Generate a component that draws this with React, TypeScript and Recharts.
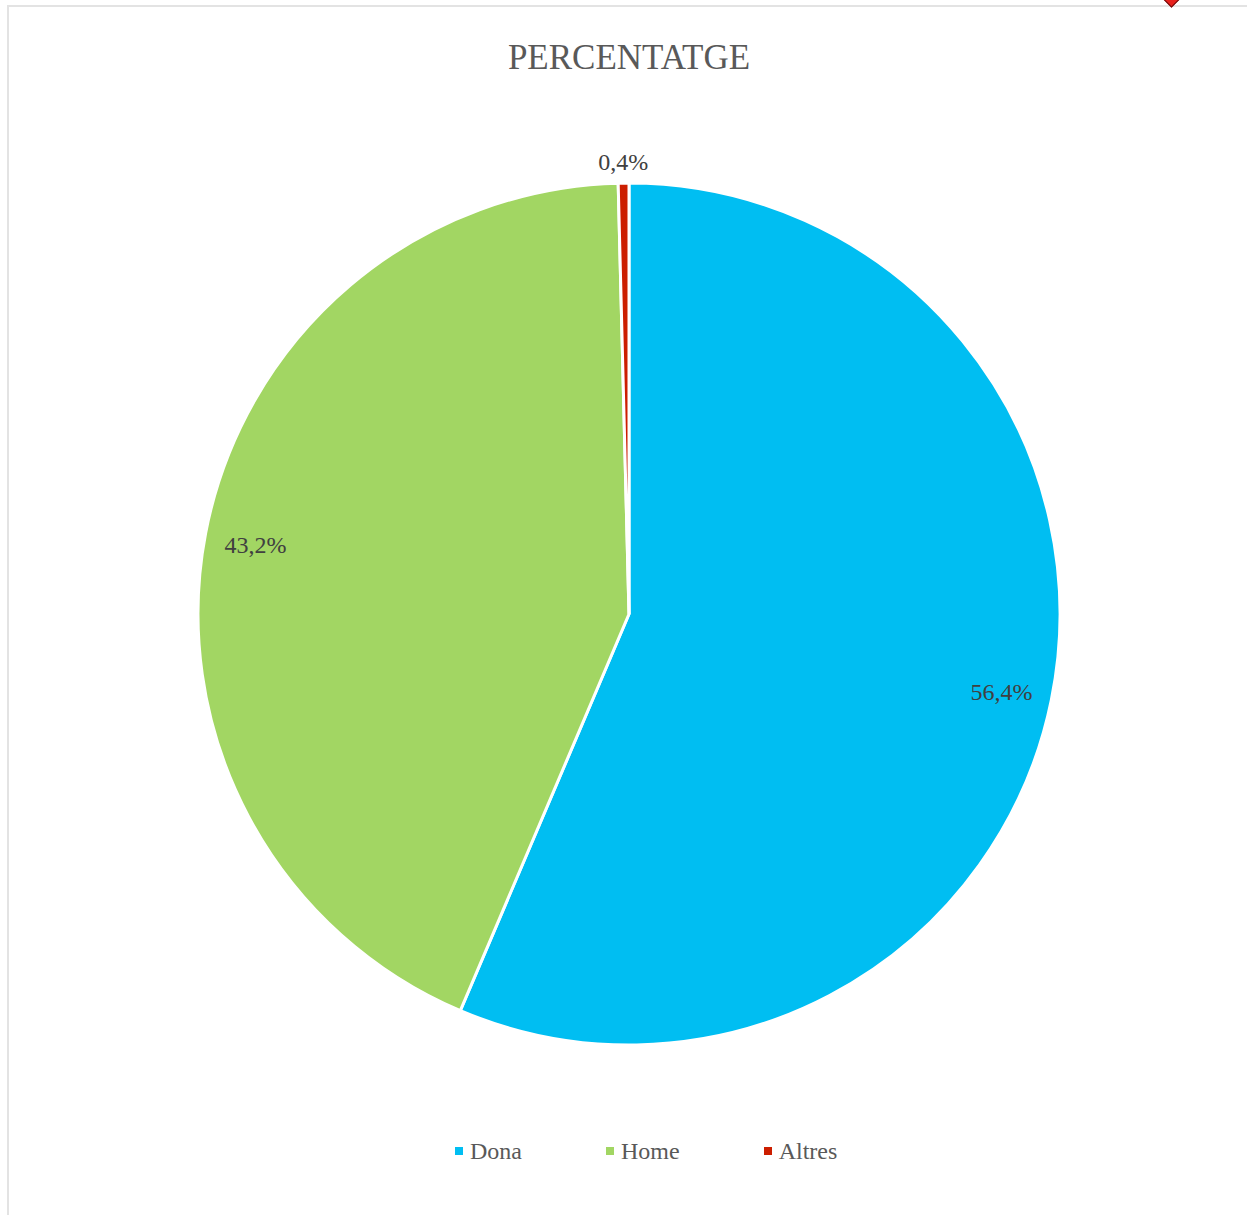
import React from 'react';
import { PieChart, Pie, Cell, Legend } from 'recharts';

const categories = ['Dona', 'Home', 'Altres'];
const percentages = [56.4, 43.2, 0.4];
const colors = ['#00BEF2', '#A2D663', '#CC1E00'];

const data = categories.map((name, i) => ({ name, value: percentages[i] }));

const serif = '"Liberation Serif", "DejaVu Serif", serif';
const RAD = Math.PI / 180;

const renderLabel = (props: any) => {
    const { cx, cy, midAngle, outerRadius, percent, value } = props;
    const r = percent < 0.05 ? outerRadius + 23 : outerRadius * 0.882;
    const x = cx + r * Math.cos(-midAngle * RAD);
    const y = cy + r * Math.sin(-midAngle * RAD);
    return (
        <text
            x={x}
            y={y + 2}
            textAnchor="middle"
            dominantBaseline="central"
            fill="#404040"
            style={{ fontFamily: serif, fontSize: 24 }}
        >
            {value.toFixed(1).replace('.', ',')}%
        </text>
    );
};

// keep legend in data order, recharts sorts by name otherwise
const renderLegend = (props: any) => {
    const payload = [...props.payload].sort(
        (a: any, b: any) => categories.indexOf(a.value) - categories.indexOf(b.value)
    );
    return (
        <div style={{ display: 'flex', alignItems: 'center', height: 28 }}>
            {payload.map((entry: any, i: number) => (
                <div key={entry.value} style={{ display: 'flex', alignItems: 'center', marginRight: i < payload.length - 1 ? 84 : 0 }}>
                    <span style={{ width: 8, height: 8, background: entry.color, display: 'inline-block', marginRight: 7 }} />
                    <span style={{ fontFamily: serif, fontSize: 24, color: '#595959', lineHeight: '28px' }}>{entry.value}</span>
                </div>
            ))}
        </div>
    );
};

const App: React.FC = () => {
    return (
        <div style={{ position: 'absolute', left: 0, top: 0, width: 1247, height: 1215, overflow: 'hidden', background: '#fff' }}>
            <div style={{ position: 'absolute', left: 7, top: 5, width: 1400, height: 1400, border: '2px solid #E3E3E3' }} />
            <div style={{ position: 'absolute', left: 1165, top: -8, width: 11, height: 11, background: '#E8201C', border: '1px solid #6a1010', transform: 'rotate(45deg)' }} />
            <div style={{ position: 'absolute', left: 0, top: 40, width: 1258, textAlign: 'center', fontFamily: serif, fontSize: 35, lineHeight: '35px', color: '#595959' }}>
                PERCENTATGE
            </div>
            <PieChart width={1247} height={1215} margin={{ top: 0, right: 0, bottom: 0, left: 0 }} style={{ position: 'absolute', left: 0, top: 0 }}>
                <Pie
                    data={data}
                    dataKey="value"
                    nameKey="name"
                    cx={629}
                    cy={614}
                    outerRadius={431}
                    startAngle={90}
                    endAngle={-270}
                    stroke="#ffffff"
                    strokeWidth={3}
                    label={renderLabel}
                    labelLine={false}
                    isAnimationActive={false}
                >
                    {data.map((d, i) => (
                        <Cell key={d.name} fill={colors[i]} />
                    ))}
                </Pie>
                <Legend
                    verticalAlign="bottom"
                    align="left"
                    content={renderLegend}
                    wrapperStyle={{ left: 455, bottom: 50, width: 600 }}
                />
            </PieChart>
        </div>
    );
};

export default App;
